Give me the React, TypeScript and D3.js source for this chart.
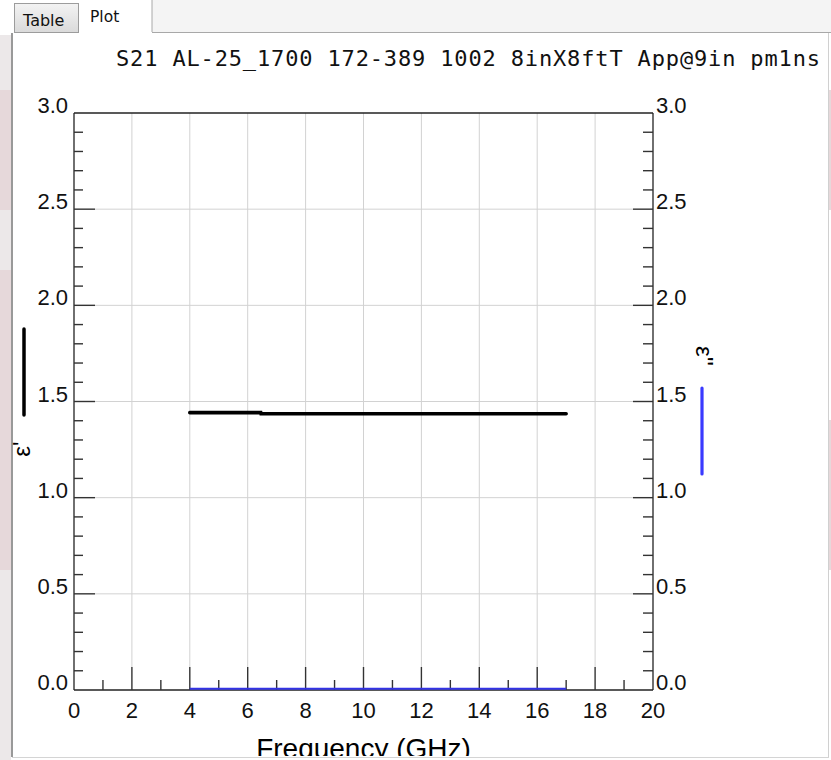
import React from "react";
import * as d3 from "d3";

const titleText = "S21 AL-25_1700 172-389 1002 8inX8ftT App@9in pm1ns";
const xAxisTitle = "Frequency (GHz)";
const leftLegendLabel = "ε'";
const rightLegendLabel = "ε''";
const tabLabels = ["Table", "Plot"];

const xTickValues = [0, 2, 4, 6, 8, 10, 12, 14, 16, 18, 20];
const xTickLabels = ["0", "2", "4", "6", "8", "10", "12", "14", "16", "18", "20"];
const xMinorTickValues = [1, 3, 5, 7, 9, 11, 13, 15, 17, 19];
const yTickValues = [0, 0.5, 1, 1.5, 2, 2.5, 3];
const yTickLabels = ["0.0", "0.5", "1.0", "1.5", "2.0", "2.5", "3.0"];
const yMinorTickValues = [
  0.1, 0.2, 0.3, 0.4, 0.6, 0.7, 0.8, 0.9, 1.1, 1.2, 1.3, 1.4, 1.6, 1.7, 1.8, 1.9,
  2.1, 2.2, 2.3, 2.4, 2.6, 2.7, 2.8, 2.9,
];

// measured series (frequency in GHz)
const freqGHz = [4, 5, 6, 6.45, 6.46, 8, 10, 12, 14, 16, 17];
const epsRealValues = [1.442, 1.442, 1.442, 1.442, 1.436, 1.436, 1.436, 1.436, 1.436, 1.436, 1.436];
const epsImagValues = [0.007, 0.007, 0.007, 0.007, 0.007, 0.007, 0.007, 0.007, 0.007, 0.007, 0.007];

const W = 831;
const H = 760;
const M = { left: 74, right: 653, top: 113, bottom: 690 };

export default function App() {
  const x = d3.scaleLinear().domain([0, 20]).range([M.left, M.right]);
  const yL = d3.scaleLinear().domain([0, 3]).range([M.bottom, M.top]);
  const yR = d3.scaleLinear().domain([0, 3]).range([M.bottom, M.top]);

  const realLine = d3
    .line<number>()
    .x((_, i) => x(freqGHz[i]))
    .y((d) => yL(d));
  const imagLine = d3
    .line<number>()
    .x((_, i) => x(freqGHz[i]))
    .y((d) => yR(d));

  const tickFont = "'Liberation Sans', Arial, sans-serif";
  const tickColor = "#333";
  const labelColor = "#111";

  return (
    <svg
      width={W}
      height={H}
      style={{ position: "fixed", left: 0, top: 0, background: "#fff" }}
      viewBox={`0 0 ${W} ${H}`}
    >
      <defs>
        <linearGradient id="tabGrad" x1="0" y1="0" x2="0" y2="1">
          <stop offset="0" stopColor="#f3f3f3" />
          <stop offset="1" stopColor="#dadada" />
        </linearGradient>
        <clipPath id="panelClip">
          <rect x={12} y={33} width={816} height={723} />
        </clipPath>
      </defs>

      {/* window background strips */}
      <rect x={0} y={0} width={W} height={H} fill="#ffffff" />
      <rect x={0} y={35} width={11} height={725} fill="#ece8e9" />
      <rect x={0} y={90} width={11} height={120} fill="#e6d8da" />
      <rect x={0} y={270} width={11} height={300} fill="#e6d8da" />
      <rect x={829} y={90} width={2} height={120} fill="#e6d8da" />
      <rect x={829} y={420} width={2} height={150} fill="#e6d8da" />

      {/* tab strip */}
      <rect x={152} y={0} width={W - 152} height={32} fill="#f4f4f4" />
      <line x1={152} y1={0} x2={152} y2={32} stroke="#a8a8a8" />
      <line x1={152} y1={32.5} x2={W} y2={32.5} stroke="#a8a8a8" />
      <rect x={14.5} y={3.5} width={64} height={29} fill="url(#tabGrad)" stroke="#9c9c9c" />
      <text x={23} y={26} fontFamily="'DejaVu Sans', sans-serif" fontSize={16} fill="#111">
        {tabLabels[0]}
      </text>
      <text x={90} y={22} fontFamily="'DejaVu Sans', sans-serif" fontSize={15.5} fill="#111">
        {tabLabels[1]}
      </text>

      {/* panel */}
      <rect x={12} y={33} width={816} height={724} fill="#fff" />
      <line x1={12} y1={33} x2={12} y2={757} stroke="#555" strokeWidth={1.2} />
      <line x1={828.5} y1={33} x2={828.5} y2={757} stroke="#d0d0d0" />
      <line x1={12} y1={757.5} x2={829} y2={757.5} stroke="#d4d4d4" />

      <g clipPath="url(#panelClip)">
        {/* title */}
        <text
          x={116}
          y={66}
          fontFamily="'DejaVu Sans Mono', monospace"
          fontSize={22}
          textLength={704}
          lengthAdjust="spacing"
          fill="#111"
        >
          {titleText}
        </text>

        {/* gridlines */}
        {xTickValues.slice(1, -1).map((v) => (
          <line
            key={"gx" + v}
            x1={x(v)}
            x2={x(v)}
            y1={M.top}
            y2={M.bottom - 23}
            stroke="#d2d2d2"
            strokeWidth={1}
          />
        ))}
        {yTickValues.slice(1, -1).map((v) => (
          <line
            key={"gy" + v}
            x1={M.left + 21}
            x2={M.right - 20}
            y1={yL(v)}
            y2={yL(v)}
            stroke="#d2d2d2"
            strokeWidth={1}
          />
        ))}

        {/* frame */}
        <line x1={M.left} x2={M.right} y1={M.top} y2={M.top} stroke="#222" strokeWidth={1.3} />
        <line x1={M.left} x2={M.right} y1={M.bottom} y2={M.bottom} stroke="#222" strokeWidth={1.3} />
        <line x1={M.left} x2={M.left} y1={M.top} y2={M.bottom} stroke="#222" strokeWidth={1.3} />
        <line x1={M.right} x2={M.right} y1={M.top} y2={M.bottom} stroke="#222" strokeWidth={1.3} />

        {/* x ticks */}
        {xTickValues.slice(1, -1).map((v) => (
          <line key={"xt" + v} x1={x(v)} x2={x(v)} y1={M.bottom} y2={M.bottom - 23} stroke={tickColor} strokeWidth={1.4} />
        ))}
        {xMinorTickValues.map((v) => (
          <line key={"xm" + v} x1={x(v)} x2={x(v)} y1={M.bottom} y2={M.bottom - 10} stroke={tickColor} strokeWidth={1.4} />
        ))}
        {xTickValues.map((v, i) => (
          <text
            key={"xl" + v}
            x={x(v)}
            y={718}
            textAnchor="middle"
            fontFamily={tickFont}
            fontSize={22}
            fill={labelColor}
          >
            {xTickLabels[i]}
          </text>
        ))}

        {/* left y ticks */}
        {yTickValues.slice(1, -1).map((v) => (
          <line key={"ylt" + v} x1={M.left} x2={M.left + 21} y1={yL(v)} y2={yL(v)} stroke={tickColor} strokeWidth={1.4} />
        ))}
        {yMinorTickValues.map((v) => (
          <line key={"ylm" + v} x1={M.left} x2={M.left + 9} y1={yL(v)} y2={yL(v)} stroke={tickColor} strokeWidth={1.4} />
        ))}
        {yTickValues.map((v, i) => (
          <text
            key={"yll" + v}
            x={68}
            y={yL(v)}
            textAnchor="end"
            fontFamily={tickFont}
            fontSize={22}
            fill={labelColor}
          >
            {yTickLabels[i]}
          </text>
        ))}

        {/* right y ticks */}
        {yTickValues.slice(1, -1).map((v) => (
          <line key={"yrt" + v} x1={M.right} x2={M.right - 20} y1={yR(v)} y2={yR(v)} stroke={tickColor} strokeWidth={1.4} />
        ))}
        {yMinorTickValues.map((v) => (
          <line key={"yrm" + v} x1={M.right} x2={M.right - 10} y1={yR(v)} y2={yR(v)} stroke={tickColor} strokeWidth={1.4} />
        ))}
        {yTickValues.map((v, i) => (
          <text
            key={"yrl" + v}
            x={656}
            y={yR(v)}
            textAnchor="start"
            fontFamily={tickFont}
            fontSize={22}
            fill={labelColor}
          >
            {yTickLabels[i]}
          </text>
        ))}

        {/* data */}
        <path d={imagLine(epsImagValues) || ""} fill="none" stroke="#3232e6" strokeWidth={2} />
        <path d={realLine(epsRealValues) || ""} fill="none" stroke="#000" strokeWidth={3.6} strokeLinecap="round" />

        {/* left legend */}
        <line x1={24} x2={24} y1={329} y2={415} stroke="#000" strokeWidth={3.5} strokeLinecap="round" />
        <text
          transform="translate(30,449) rotate(-90)"
          textAnchor="middle"
          fontFamily={tickFont}
          fontSize={24}
          fill="#000"
        >
          {leftLegendLabel}
        </text>

        {/* right legend */}
        <line x1={702} x2={702} y1={388} y2={474} stroke="#3a3aff" strokeWidth={3.2} strokeLinecap="round" />
        <text
          transform="translate(696,356) rotate(90)"
          textAnchor="middle"
          fontFamily={tickFont}
          fontSize={24}
          fill="#000"
        >
          {rightLegendLabel}
        </text>

        {/* x axis title */}
        <text
          x={(M.left + M.right) / 2}
          y={758}
          textAnchor="middle"
          fontFamily={tickFont}
          fontSize={28}
          fill="#000"
        >
          {xAxisTitle}
        </text>
      </g>
    </svg>
  );
}
